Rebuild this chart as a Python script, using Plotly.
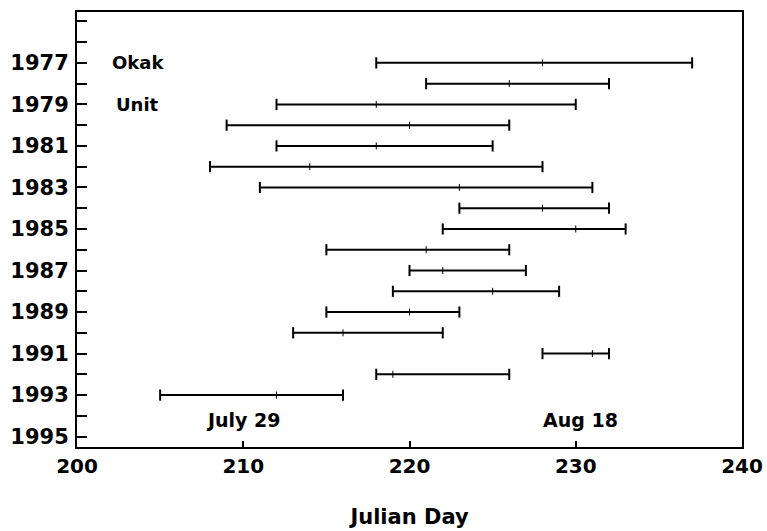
import plotly.graph_objects as go

# Emergence window per year (Julian day): first day, last day and median day
years = [1977, 1978, 1979, 1980, 1981, 1982, 1983, 1984, 1985, 1986,
         1987, 1988, 1989, 1990, 1991, 1992, 1993]
first_day = [218, 221, 212, 209, 212, 208, 211, 223, 222, 215,
             220, 219, 215, 213, 228, 218, 205]
last_day = [237, 232, 230, 226, 225, 228, 231, 232, 233, 226,
            227, 229, 223, 222, 232, 226, 216]
median_day = [228, 226, 218, 220, 218, 214, 223, 228, 230, 221,
              222, 225, 220, 216, 231, 219, 212]

year_ticks = list(range(1975, 1996))
year_labels = [str(y) if y % 2 == 1 and y >= 1977 else "" for y in year_ticks]
day_ticks = [200, 210, 220, 230, 240]

BOLD = "DejaVu Sans"

fig = go.Figure()

# horizontal range lines
seg_x, seg_y = [], []
for y, a, b in zip(years, first_day, last_day):
    seg_x += [a, b, None]
    seg_y += [y, y, None]
fig.add_trace(go.Scatter(x=seg_x, y=seg_y, mode="lines",
                         line=dict(color="black", width=2),
                         hoverinfo="skip", showlegend=False))

# end caps
fig.add_trace(go.Scatter(x=first_day + last_day, y=years + years, mode="markers",
                         marker=dict(symbol="line-ns", size=8,
                                     line=dict(color="black", width=2)),
                         hoverinfo="skip", showlegend=False))

# median marks
fig.add_trace(go.Scatter(x=median_day, y=years, mode="markers",
                         marker=dict(symbol="line-ns", size=5,
                                     line=dict(color="black", width=1)),
                         hoverinfo="skip", showlegend=False))

fig.add_annotation(x=202.0, y=1977, text="Okak", showarrow=False, xanchor="left",
                   font=dict(family=BOLD, size=18, color="black", weight="bold"))
fig.add_annotation(x=202.2, y=1979, text="Unit", showarrow=False, xanchor="left",
                   font=dict(family=BOLD, size=18, color="black", weight="bold"))
fig.add_annotation(x=210, y=1994.2, text="July 29", showarrow=False,
                   font=dict(family=BOLD, size=19, color="black", weight="bold"))
fig.add_annotation(x=230.3, y=1994.2, text="Aug 18", showarrow=False,
                   font=dict(family=BOLD, size=19, color="black", weight="bold"))

fig.update_xaxes(range=[200, 240], tickvals=day_ticks, automargin=False,
                 ticks="inside", ticklen=6, tickwidth=1.5, tickcolor="black",
                 showline=True, linecolor="black", linewidth=2, mirror=True,
                 showgrid=False, zeroline=False,
                 tickfont=dict(family=BOLD, size=20, color="black", weight="bold"),
                 title=dict(text="Julian Day", standoff=32,
                            font=dict(family=BOLD, size=21, color="black", weight="bold")))
fig.update_yaxes(range=[1995.5, 1974.55], tickvals=year_ticks, ticktext=year_labels,
                 automargin=False, ticklabelstandoff=2,
                 ticks="inside", ticklen=10, tickwidth=1.5, tickcolor="black",
                 showline=True, linecolor="black", linewidth=2, mirror=True,
                 showgrid=False, zeroline=False,
                 tickfont=dict(family=BOLD, size=21, color="black", weight="bold"))

fig.update_layout(width=767, height=531,
                  margin=dict(l=77, r=25, t=12, b=84),
                  paper_bgcolor="white", plot_bgcolor="white")

fig.write_html("out.html")
